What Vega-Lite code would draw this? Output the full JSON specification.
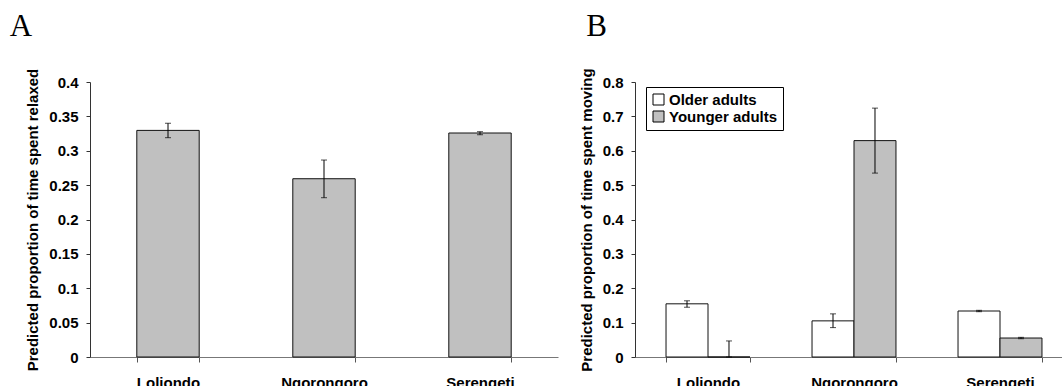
{
  "$schema": "https://vega.github.io/schema/vega-lite/v6.json",
  "padding": {"left": 9, "top": 10, "right": -11, "bottom": -4},
  "spacing": 21,
  "resolve": {"scale": {"fill": "independent"}, "legend": {"fill": "independent"}},
  "config": {
    "view": {"stroke": null},
    "font": "Liberation Sans",
    "axis": {
      "grid": false,
      "labelFont": "Liberation Sans",
      "labelFontSize": 15,
      "labelFontWeight": "bold",
      "labelColor": "#000",
      "titleFont": "Liberation Sans",
      "titleFontSize": 15,
      "titleFontWeight": "bold",
      "titleColor": "#000",
      "domainColor": "#333",
      "tickColor": "#333",
      "tickSize": 4
    },
    "title": {"font": "Liberation Serif", "fontSize": 31, "fontWeight": "normal", "color": "#000", "anchor": "start", "offset": 25}
  },
  "hconcat": [
    {
      "width": 468,
      "height": 275,
      "title": {"text": "A", "dx": -16},
      "data": {"values": [
        {"site": "Loliondo", "value": 0.3296, "lo": 0.319, "hi": 0.340},
        {"site": "Ngorongoro", "value": 0.2593, "lo": 0.2317, "hi": 0.2865},
        {"site": "Serengeti", "value": 0.3258, "lo": 0.3233, "hi": 0.3277}
      ]},
      "encoding": {
        "x": {"field": "site", "type": "nominal", "sort": null, "title": null,
          "scale": {"paddingInner": 0.6, "paddingOuter": 0.3},
          "axis": {"labelAngle": 0, "tickBand": "extent", "labelPadding": 13, "tickSize": 5, "domainColor": "#777", "tickColor": "#555"}}
      },
      "layer": [
        {"mark": {"type": "bar", "fill": "#c0c0c0", "stroke": "#111", "strokeWidth": 1},
         "encoding": {"y": {"field": "value", "type": "quantitative", "title": "Predicted proportion of time spent relaxed",
           "scale": {"domain": [0, 0.4], "nice": false},
           "axis": {"values": [0, 0.05, 0.1, 0.15, 0.2, 0.25, 0.3, 0.35, 0.4], "format": ".2~f", "labelPadding": 8, "titlePadding": 8}}}},
        {"mark": {"type": "rule", "color": "#000", "strokeWidth": 1},
         "encoding": {"y": {"field": "lo", "type": "quantitative", "title": "Predicted proportion of time spent relaxed",
           "axis": {"values": [0, 0.05, 0.1, 0.15, 0.2, 0.25, 0.3, 0.35, 0.4], "format": ".2~f", "labelPadding": 8, "titlePadding": 8}}, "y2": {"field": "hi"}}},
        {"mark": {"type": "tick", "color": "#000", "size": 6, "thickness": 1},
         "encoding": {"y": {"field": "lo", "type": "quantitative", "title": "Predicted proportion of time spent relaxed",
           "axis": {"values": [0, 0.05, 0.1, 0.15, 0.2, 0.25, 0.3, 0.35, 0.4], "format": ".2~f", "labelPadding": 8, "titlePadding": 8}}}},
        {"mark": {"type": "tick", "color": "#000", "size": 6, "thickness": 1},
         "encoding": {"y": {"field": "hi", "type": "quantitative", "title": "Predicted proportion of time spent relaxed",
           "axis": {"values": [0, 0.05, 0.1, 0.15, 0.2, 0.25, 0.3, 0.35, 0.4], "format": ".2~f", "labelPadding": 8, "titlePadding": 8}}}}
      ]
    },
    {
      "width": 438,
      "height": 275,
      "title": {"text": "B", "dx": 7},
      "data": {"values": [
        {"site": "Loliondo", "group": "Older adults", "value": 0.1547, "lo": 0.1448, "hi": 0.1635},
        {"site": "Loliondo", "group": "Younger adults", "value": 0, "lo": 0, "hi": 0.0467},
        {"site": "Ngorongoro", "group": "Older adults", "value": 0.1051, "lo": 0.0855, "hi": 0.1255},
        {"site": "Ngorongoro", "group": "Younger adults", "value": 0.6295, "lo": 0.535, "hi": 0.724},
        {"site": "Serengeti", "group": "Older adults", "value": 0.1338, "lo": 0.1318, "hi": 0.1358},
        {"site": "Serengeti", "group": "Younger adults", "value": 0.0552, "lo": 0.0532, "hi": 0.0572}
      ]},
      "encoding": {
        "x": {"field": "site", "type": "nominal", "sort": null, "title": null,
          "scale": {"paddingInner": 0.425, "paddingOuter": 0.2125},
          "axis": {"labelAngle": 0, "tickBand": "extent", "labelPadding": 13, "tickSize": 5, "domainColor": "#777", "tickColor": "#555"}},
        "xOffset": {"field": "group", "type": "nominal", "sort": null}
      },
      "layer": [
        {"mark": {"type": "bar", "stroke": "#111", "strokeWidth": 1},
         "encoding": {
           "y": {"field": "value", "type": "quantitative", "title": "Predicted proportion of time spent moving",
             "scale": {"domain": [0, 0.8], "nice": false},
             "axis": {"values": [0, 0.1, 0.2, 0.3, 0.4, 0.5, 0.6, 0.7, 0.8], "format": ".1~f", "labelPadding": 8, "titlePadding": 8}},
           "fill": {"field": "group", "type": "nominal", "sort": null,
             "scale": {"domain": ["Older adults", "Younger adults"], "range": ["#ffffff", "#c0c0c0"]},
             "legend": {"title": null, "orient": "none", "legendX": 11, "legendY": 5,
               "symbolType": "square", "symbolSize": 121, "symbolStrokeColor": "#000", "symbolStrokeWidth": 1,
               "labelFont": "Liberation Sans", "labelFontSize": 15, "labelFontWeight": "bold", "labelColor": "#000",
               "labelOffset": 3, "padding": 5, "rowPadding": 1, "strokeColor": "#000", "fillColor": "#fff"}}
         }},
        {"mark": {"type": "rule", "color": "#000", "strokeWidth": 1},
         "encoding": {"y": {"field": "lo", "type": "quantitative", "title": "Predicted proportion of time spent moving",
           "axis": {"values": [0, 0.1, 0.2, 0.3, 0.4, 0.5, 0.6, 0.7, 0.8], "format": ".1~f", "labelPadding": 8, "titlePadding": 8}}, "y2": {"field": "hi"}}},
        {"mark": {"type": "tick", "color": "#000", "size": 6, "thickness": 1},
         "encoding": {"y": {"field": "lo", "type": "quantitative", "title": "Predicted proportion of time spent moving",
           "axis": {"values": [0, 0.1, 0.2, 0.3, 0.4, 0.5, 0.6, 0.7, 0.8], "format": ".1~f", "labelPadding": 8, "titlePadding": 8}}}},
        {"mark": {"type": "tick", "color": "#000", "size": 6, "thickness": 1},
         "encoding": {"y": {"field": "hi", "type": "quantitative", "title": "Predicted proportion of time spent moving",
           "axis": {"values": [0, 0.1, 0.2, 0.3, 0.4, 0.5, 0.6, 0.7, 0.8], "format": ".1~f", "labelPadding": 8, "titlePadding": 8}}}}
      ]
    }
  ]
}
